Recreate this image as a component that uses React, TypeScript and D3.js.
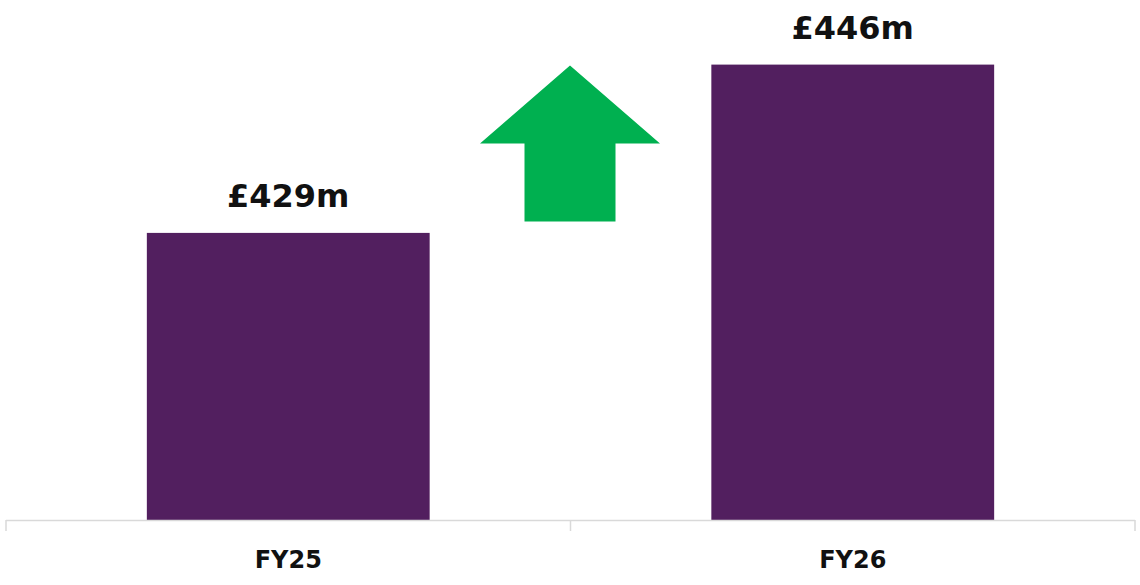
import React from "react";
import * as d3 from "d3";

const categories: string[] = ["FY25", "FY26"];
const values: number[] = [429, 446];
const valueLabels: string[] = ["£429m", "£446m"];
const yDomain: [number, number] = [400, 450];

const W = 1140;
const H = 585;

export default function App() {
  const x = d3.scaleBand<string>().domain(categories).range([6, 1135]).padding(0);
  const y = d3.scaleLinear().domain(yDomain).range([520, 25]);
  const barW = x.bandwidth() * 0.501;
  const baseY = y(yDomain[0]);

  // arrow between bars, anchored on the boundary between categories
  const ax = (x(categories[1]) as number) - 0.5;
  const tipY = y(values[1]) + 1;
  const headH = 78;
  const totalH = 156;
  const headHalf = 90;
  const shaftHalf = 45.5;
  const arrowPath = d3.path();
  arrowPath.moveTo(ax, tipY);
  arrowPath.lineTo(ax + headHalf, tipY + headH);
  arrowPath.lineTo(ax + shaftHalf, tipY + headH);
  arrowPath.lineTo(ax + shaftHalf, tipY + totalH);
  arrowPath.lineTo(ax - shaftHalf, tipY + totalH);
  arrowPath.lineTo(ax - shaftHalf, tipY + headH);
  arrowPath.lineTo(ax - headHalf, tipY + headH);
  arrowPath.closePath();

  const tickXs = [...categories.map((c) => x(c) as number), 1135];

  return (
    <svg
      width={W}
      height={H}
      style={{ position: "absolute", left: 0, top: 0, background: "#fff" }}
      fontFamily="'DejaVu Sans', sans-serif"
    >
      {categories.map((c, i) => {
        const cx = (x(c) as number) + x.bandwidth() / 2;
        return (
          <g key={c}>
            <rect
              x={cx - barW / 2}
              y={y(values[i])}
              width={barW}
              height={baseY - y(values[i])}
              fill="#521F5F"
            />
            <text
              x={cx}
              y={y(values[i]) - 26}
              textAnchor="middle"
              fontWeight="bold"
              fontSize={32}
              fill="#111"
            >
              {valueLabels[i]}
            </text>
            <text x={cx} y={568} textAnchor="middle" fontWeight="bold" fontSize={24} fill="#111">
              {c}
            </text>
          </g>
        );
      })}
      <line x1={6} x2={1135} y1={520.5} y2={520.5} stroke="#d9d9d9" strokeWidth={1.5} />
      {tickXs.map((t, i) => (
        <line key={i} x1={t} x2={t} y1={520} y2={531} stroke="#d9d9d9" strokeWidth={1.5} />
      ))}
      <path d={arrowPath.toString()} fill="#00B050" />
    </svg>
  );
}
